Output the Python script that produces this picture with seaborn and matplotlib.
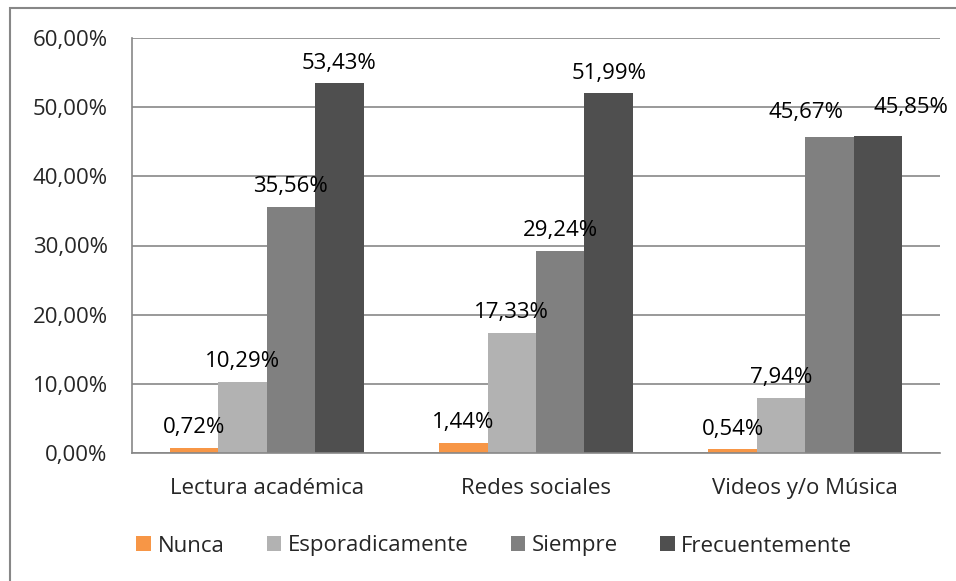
import matplotlib
matplotlib.use("Agg")
import matplotlib.pyplot as plt
import seaborn as sns
import pandas as pd
from matplotlib.patches import Rectangle

categories = ["Lectura académica", "Redes sociales", "Videos y/o Música"]
series = ["Nunca", "Esporadicamente", "Siempre", "Frecuentemente"]
nunca = [0.72, 1.44, 0.54]
esporadicamente = [10.29, 17.33, 7.94]
siempre = [35.56, 29.24, 45.67]
frecuentemente = [53.43, 51.99, 45.85]
y_ticks = [0, 10, 20, 30, 40, 50, 60]
colors = ["#F79646", "#B2B2B2", "#808080", "#4F4F4F"]

values = [nunca, esporadicamente, siempre, frecuentemente]
df = pd.DataFrame(
    [(c, s, v) for s, vals in zip(series, values) for c, v in zip(categories, vals)],
    columns=["categoria", "serie", "valor"],
)

sns.set_style("white")
plt.rcParams["font.family"] = ["Open Sans", "DejaVu Sans"]
FS = 16

fig = plt.figure(figsize=(9.56, 5.81), dpi=100)
ax = fig.add_axes([132 / 956, 1 - 453 / 581, (940 - 132) / 956, (453 - 38) / 581])

sns.barplot(
    data=df, x="categoria", y="valor", hue="serie",
    order=categories, hue_order=series, palette=colors,
    width=0.72, saturation=1, ax=ax, legend=True, errorbar=None,
    linewidth=0,
)

label_pad = 7
for container, vals in zip(ax.containers, values):
    labels = [f"{v:.2f}%".replace(".", ",") for v in vals]
    anns = ax.bar_label(container, labels=labels, padding=label_pad,
                        fontsize=FS, color="black")
    # nudge the two crowded labels of the last group apart
    if vals is siempre:
        anns[2].xyann = (-17, label_pad + 3)
    if vals is frecuentemente:
        anns[2].xyann = (24, label_pad + 6)

grid_color = "#878787"
ax.set_ylim(0, 60)
ax.set_xlim(-0.5, 2.5)
ax.set_yticks(y_ticks)
ax.set_yticklabels([f"{t:.2f}%".replace(".", ",") for t in y_ticks], fontsize=FS)
ax.yaxis.grid(True, color=grid_color, linewidth=1.2)
ax.set_axisbelow(True)

# category boundary ticks on the x axis
ax.set_xticks([-0.5, 0.5, 1.5, 2.5], minor=False)
ax.set_xticklabels([])
ax.set_xticks([0, 1, 2], minor=True)
ax.set_xticklabels(categories, minor=True, fontsize=FS)
ax.tick_params(axis="x", which="major", length=6.5, color=grid_color, width=1.2, direction="out")
ax.tick_params(axis="x", which="minor", length=0, pad=18)
ax.tick_params(axis="y", length=6.5, color=grid_color, width=1.2, pad=11)

for side in ["top", "right"]:
    ax.spines[side].set_visible(False)
for side in ["left", "bottom"]:
    ax.spines[side].set_color(grid_color)
    ax.spines[side].set_linewidth(1.2)

ax.set_xlabel("")
ax.set_ylabel("")

leg = ax.legend(
    loc="center", ncol=4, frameon=False, fontsize=FS,
    handlelength=0.65, handleheight=0.65, handletextpad=0.3, columnspacing=1.9,
)
leg.set_bbox_to_anchor((0.517, 1 - 546 / 581), transform=fig.transFigure)

# chart area frame
fig.patches.append(Rectangle((10 / 956, -0.1), 1.2, 1 - 8 / 581 + 0.1,
                             transform=fig.transFigure, fill=False,
                             edgecolor=grid_color, linewidth=1.5))

fig.savefig("out.png", dpi=100)
